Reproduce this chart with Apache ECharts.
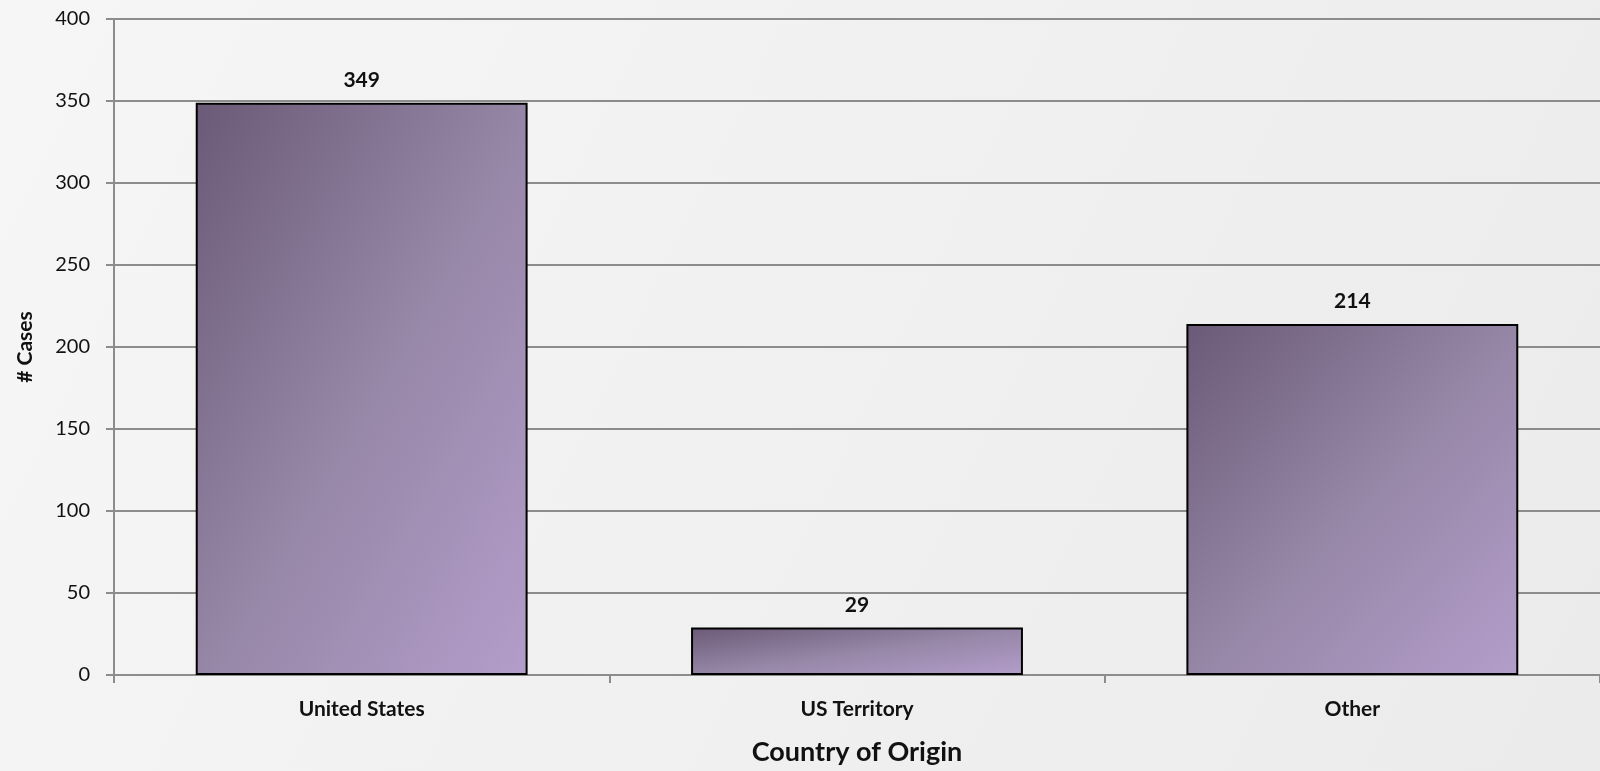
<!DOCTYPE html>
<html><head><meta charset="utf-8">
<script src="https://cdn.jsdelivr.net/npm/echarts@6/dist/echarts.min.js"></script>
<style>html,body{margin:0;padding:0;}#c{width:1600px;height:771px;}</style>
</head><body><div id="c"></div>
<script>
const categories = ["United States", "US Territory", "Other"];
const cases = [349, 29, 214];
const yTicks = [0, 50, 100, 150, 200, 250, 300, 350, 400];

const FONT = "Lato, 'Open Sans', sans-serif";
const GRID = {left: 114, width: 1495, top: 19, bottom: 92};
const chart = echarts.init(document.getElementById('c'));

// Gradient whose iso-lines run along each bar's anti-diagonal (dark top-left, light bottom-right)
function barGradient(value) {
  const plotH = chart.getHeight() - GRID.top - GRID.bottom;
  const h = value / yTicks[yTicks.length - 1] * plotH;
  const w = GRID.width / categories.length * 0.67;
  const d = h * h + w * w;
  return new echarts.graphic.LinearGradient(0, 0, 2 * h * h / d, 2 * w * w / d, [
    {offset: 0, color: '#6a5a77'}, {offset: 0.5, color: '#9686a6'}, {offset: 1, color: '#b39dca'}
  ]);
}

chart.setOption({
  backgroundColor: new echarts.graphic.LinearGradient(0, 0, 1, 1, [
    {offset: 0, color: '#f6f6f6'}, {offset: 1, color: '#ebebeb'}
  ]),
  animation: false,
  grid: Object.assign({containLabel: false}, GRID),
  xAxis: {
    type: 'category', data: categories,
    name: 'Country of Origin', nameLocation: 'middle', nameGap: 64,
    nameTextStyle: {fontFamily: FONT, fontWeight: 'bold', fontSize: 27, color: '#111'},
    axisLine: {lineStyle: {color: '#8c8c8c', width: 2}},
    axisTick: {show: true, length: 8, lineStyle: {color: '#8c8c8c', width: 2}},
    axisLabel: {fontFamily: FONT, fontWeight: 'bold', fontSize: 21, color: '#111', margin: 24}
  },
  yAxis: {
    type: 'value', min: yTicks[0], max: yTicks[yTicks.length-1], interval: 50,
    name: '# Cases', nameLocation: 'middle', nameGap: 78, nameRotate: 90,
    nameTextStyle: {fontFamily: FONT, fontWeight: 'bold', fontSize: 21, color: '#111'},
    axisLine: {show: true, lineStyle: {color: '#8c8c8c', width: 2}},
    axisTick: {show: true, length: 8, lineStyle: {color: '#8c8c8c', width: 2}},
    axisLabel: {fontFamily: FONT, fontSize: 20, color: '#111', margin: 24},
    splitLine: {lineStyle: {color: '#8c8c8c', width: 2}}
  },
  series: [{
    type: 'bar', barCategoryGap: '33%',
    data: cases.map(v => ({value: v, itemStyle: {color: barGradient(v)}})),
    itemStyle: {borderColor: '#000', borderWidth: 2},
    label: {show: true, position: 'top', distance: 12, fontFamily: FONT, fontWeight: 'bold', fontSize: 21, color: '#111'}
  }]
});
</script></body></html>
